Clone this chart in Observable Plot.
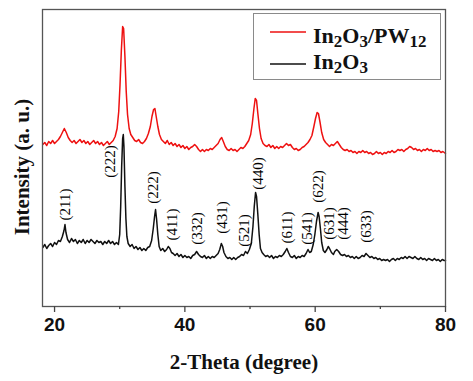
<!DOCTYPE html>
<html>
<head>
<meta charset="utf-8">
<script src="https://cdn.jsdelivr.net/npm/d3@7"></script>
<script src="https://cdn.jsdelivr.net/npm/@observablehq/plot@0.6"></script>
<style>
  html, body { margin: 0; padding: 0; background: #fff; }
  #wrap { position: relative; width: 473px; height: 381px; }
  #legend { position: absolute; left: 253px; top: 13px; width: 188px; height: 67px;
            border: 1px solid #8a8a8a; background: #fff; box-sizing: border-box; }
  #legend svg { position: absolute; left: 0; top: 0; }
</style>
</head>
<body>
<div id="wrap"></div>
<script>
// 2-Theta (degree), intensity (a. u.)
const in2o3 = [
[18.2,59],[18.5,62],[18.8,58],[19.1,61],[19.4,63],[19.7,60],[20.0,64],[20.3,62],[20.6,66],[20.9,65],
[21.2,70],[21.45,76],[21.6,82],[21.75,74],[22.0,67],[22.3,64],[22.6,68],[22.9,65],[23.2,67],[23.5,63],
[23.8,66],[24.1,64],[24.4,67],[24.7,63],[25.0,66],[25.3,64],[25.6,67],[25.9,65],[26.2,63],[26.5,66],
[26.8,64],[27.1,65],[27.4,62],[27.7,65],[28.0,63],[28.3,66],[28.6,63],[28.9,65],[29.2,62],[29.5,64],
[29.8,62],[30.0,72],[30.15,100],[30.3,140],[30.45,168],[30.55,172],[30.65,160],[30.8,120],[30.95,88],[31.1,70],
[31.3,63],[31.6,60],[31.9,62],[32.2,58],[32.5,60],[32.8,57],[33.1,59],[33.4,56],[33.7,58],[34.0,56],
[34.3,59],[34.6,60],[34.9,66],[35.15,78],[35.35,90],[35.5,97],[35.65,88],[35.85,72],[36.05,60],[36.3,56],
[36.6,58],[36.9,55],[37.2,57],[37.45,60],[37.7,58],[37.95,54],[38.2,53],[38.5,51],[38.8,53],[39.1,50],
[39.4,52],[39.7,49],[40.0,51],[40.3,49],[40.6,50],[40.9,48],[41.2,51],[41.5,52],[41.8,55],[42.1,52],
[42.4,50],[42.7,49],[43.0,51],[43.3,48],[43.6,50],[43.9,48],[44.2,50],[44.5,49],[44.8,51],[45.1,53],
[45.35,57],[45.6,63],[45.8,60],[46.0,54],[46.3,50],[46.6,48],[46.9,49],[47.2,47],[47.5,49],[47.8,47],
[48.1,49],[48.4,50],[48.7,52],[49.0,51],[49.3,55],[49.6,53],[49.9,57],[50.2,63],[50.45,80],[50.65,100],
[50.85,114],[51.0,110],[51.2,92],[51.4,72],[51.6,58],[51.85,54],[52.1,52],[52.4,50],[52.7,51],[53.0,49],
[53.3,51],[53.6,48],[53.9,50],[54.2,49],[54.5,51],[54.8,50],[55.1,52],[55.4,55],[55.65,58],[55.9,54],
[56.2,50],[56.5,49],[56.8,51],[57.1,48],[57.4,50],[57.7,49],[58.0,51],[58.3,50],[58.6,53],[58.9,57],
[59.15,54],[59.4,55],[59.7,62],[59.95,72],[60.2,85],[60.45,94],[60.6,90],[60.8,78],[61.0,64],[61.25,56],
[61.5,54],[61.8,57],[62.0,60],[62.2,58],[62.5,54],[62.8,52],[63.0,55],[63.3,57],[63.6,55],[63.9,52],
[64.2,51],[64.5,52],[64.8,50],[65.1,51],[65.4,49],[65.7,50],[66.0,48],[66.3,50],[66.6,48],[66.9,49],
[67.2,51],[67.5,50],[67.8,53],[68.1,51],[68.4,49],[68.7,50],[69.0,48],[69.3,49],[69.6,47],[69.9,48],
[70.2,46],[70.5,47],[70.8,46],[71.1,47],[71.4,45],[71.7,47],[72.0,48],[72.3,46],[72.6,48],[72.9,47],
[73.2,49],[73.5,48],[73.8,50],[74.1,48],[74.4,50],[74.7,49],[75.0,48],[75.3,50],[75.6,48],[75.9,47],
[76.2,49],[76.5,47],[76.8,48],[77.1,46],[77.4,48],[77.7,47],[78.0,46],[78.3,48],[78.6,46],[78.9,47],
[79.2,45],[79.5,47],[79.8,46],[80.0,46]
];
const in2o3pw12 = [
[18.2,162],[18.5,164],[18.8,161],[19.1,165],[19.4,163],[19.7,166],[20.0,163],[20.3,165],[20.6,167],[20.9,170],
[21.2,174],[21.5,178],[21.8,174],[22.1,169],[22.4,166],[22.7,164],[23.0,166],[23.3,163],[23.6,165],[23.9,167],
[24.2,164],[24.5,166],[24.8,163],[25.1,165],[25.4,162],[25.7,164],[26.0,166],[26.3,163],[26.6,165],[26.9,162],
[27.2,164],[27.5,161],[27.8,163],[28.1,165],[28.4,162],[28.7,164],[29.0,166],[29.3,170],[29.6,178],[29.85,195],
[30.05,222],[30.25,256],[30.45,280],[30.6,278],[30.8,250],[31.0,215],[31.2,192],[31.45,178],[31.7,172],[32.0,169],
[32.3,166],[32.6,165],[32.9,167],[33.2,164],[33.5,163],[33.8,165],[34.1,168],[34.4,173],[34.7,180],[34.95,190],
[35.2,197],[35.4,198],[35.6,190],[35.85,180],[36.1,172],[36.4,167],[36.7,165],[37.0,163],[37.3,166],[37.6,162],
[37.9,164],[38.2,161],[38.5,163],[38.8,160],[39.1,162],[39.4,159],[39.7,161],[40.0,158],[40.3,160],[40.6,157],
[40.9,159],[41.2,160],[41.5,162],[41.8,160],[42.1,157],[42.4,155],[42.7,157],[43.0,155],[43.3,157],[43.6,156],
[43.9,158],[44.2,157],[44.5,159],[44.8,161],[45.1,163],[45.4,167],[45.65,169],[45.9,165],[46.2,160],[46.5,157],
[46.8,156],[47.1,158],[47.4,156],[47.7,157],[48.0,155],[48.3,157],[48.6,159],[48.9,158],[49.2,160],[49.5,163],
[49.8,166],[50.1,172],[50.35,183],[50.6,198],[50.8,208],[51.0,206],[51.2,193],[51.45,178],[51.7,168],[52.0,163],
[52.3,161],[52.6,160],[52.9,162],[53.2,159],[53.5,161],[53.8,158],[54.1,160],[54.4,158],[54.7,160],[55.0,159],
[55.3,161],[55.6,163],[55.9,161],[56.2,162],[56.5,159],[56.8,157],[57.1,158],[57.4,156],[57.7,157],[58.0,159],
[58.3,160],[58.6,162],[58.9,164],[59.2,167],[59.5,171],[59.8,180],[60.05,188],[60.3,194],[60.5,193],[60.75,184],
[61.0,174],[61.3,167],[61.6,164],[61.9,162],[62.2,160],[62.5,162],[62.8,161],[63.1,163],[63.4,165],[63.7,162],
[64.0,159],[64.3,157],[64.6,156],[64.9,157],[65.2,155],[65.5,156],[65.8,154],[66.1,155],[66.4,153],[66.7,155],
[67.0,154],[67.3,156],[67.6,154],[67.9,155],[68.2,153],[68.5,154],[68.8,152],[69.1,153],[69.4,155],[69.7,153],
[70.0,154],[70.3,152],[70.6,154],[70.9,153],[71.2,155],[71.5,154],[71.8,156],[72.1,154],[72.4,155],[72.7,157],
[73.0,156],[73.3,157],[73.6,155],[73.9,157],[74.2,158],[74.5,160],[74.8,159],[75.1,157],[75.4,158],[75.7,156],
[76.0,157],[76.3,155],[76.6,157],[76.9,156],[77.2,158],[77.5,156],[77.8,157],[78.1,155],[78.4,156],[78.7,155],
[79.0,156],[79.3,154],[79.6,155],[80.0,153]
];
// peak (hkl) annotations: text, anchor 2-Theta, anchor intensity
const hklText  = ["(211)","(222)","(222)","(411)","(332)","(431)","(521)","(440)","(611)","(541)","(622)","(631)","(444)","(633)"];
const hklTheta = [21.7, 28.6, 35.2, 38.1, 41.9, 45.7, 49.1, 51.2, 55.7, 58.7, 60.4, 62.1, 64.3, 67.9];
const hklInt   = [102, 145, 119, 82, 78, 89, 76, 133, 79, 78, 120, 83, 83, 80];
const majorTicks = [20, 40, 60, 80];
const minorTicks = [30, 50, 70];

const toRows = (arr) => arr.map(([t, v]) => ({t, v}));
const hkl = hklText.map((s, i) => ({s, t: hklTheta[i], v: hklInt[i]}));

const serif = "'Liberation Serif', 'Times New Roman', serif";
const sans = "'Liberation Sans', Arial, sans-serif";

const chart = Plot.plot({
  width: 473, height: 381,
  marginLeft: 42, marginRight: 28, marginTop: 9, marginBottom: 75,
  style: {background: "#fff", overflow: "visible"},
  x: {domain: [18.15, 80]},
  y: {domain: [0, 297], axis: null},
  marks: [
    Plot.line(toRows(in2o3), {x: "t", y: "v", stroke: "#111", strokeWidth: 1.5, strokeLinejoin: "round"}),
    Plot.line(toRows(in2o3pw12), {x: "t", y: "v", stroke: "#ee1111", strokeWidth: 1.5, strokeLinejoin: "round"}),
    Plot.text(hkl, {x: "t", y: "v", text: "s", rotate: -90, fontFamily: serif, fontSize: 15, fill: "#000"}),
    Plot.frame({stroke: "#555", strokeWidth: 1.3}),
    Plot.axisX({ticks: majorTicks, tickSize: 6, tickPadding: 5, stroke: "#444", strokeWidth: 1.3,
      fontFamily: sans, fontSize: 19, fontWeight: "bold", fill: "#111", label: null}),
    Plot.axisX({ticks: minorTicks, tickSize: 3, tickFormat: () => "", stroke: "#444", strokeWidth: 1.3, label: null}),
    Plot.text(["2-Theta (degree)"], {frameAnchor: "bottom", dy: 56, textAnchor: "middle", lineAnchor: "middle",
      fontFamily: serif, fontSize: 21, fontWeight: "bold", fill: "#111"}),
    Plot.text(["Intensity (a. u.)"], {frameAnchor: "left", dx: -20, dy: 9, rotate: -90, textAnchor: "middle",
      lineAnchor: "middle", fontFamily: serif, fontSize: 21, fontWeight: "bold", fill: "#111"})
  ]
});
const wrap = document.getElementById("wrap");
wrap.appendChild(chart);

const legend = document.createElement("div");
legend.id = "legend";
legend.innerHTML = `
<svg width="188" height="67" xmlns="http://www.w3.org/2000/svg">
  <line x1="16" x2="52" y1="18" y2="18" stroke="#ee1111" stroke-width="1.4"/>
  <line x1="16" x2="52" y1="50" y2="50" stroke="#111" stroke-width="1.4"/>
  <text x="59" y="29" font-family="${serif}" font-weight="bold" font-size="22" fill="#111">In<tspan dy="4" font-size="17">2</tspan><tspan dy="-4">O</tspan><tspan dy="4" font-size="17">3</tspan><tspan dy="-4">/PW</tspan><tspan dy="4" font-size="17">12</tspan></text>
  <text x="59" y="55" font-family="${serif}" font-weight="bold" font-size="22" fill="#111">In<tspan dy="4" font-size="17">2</tspan><tspan dy="-4">O</tspan><tspan dy="4" font-size="17">3</tspan></text>
</svg>`;
wrap.appendChild(legend);
</script>
</body>
</html>
